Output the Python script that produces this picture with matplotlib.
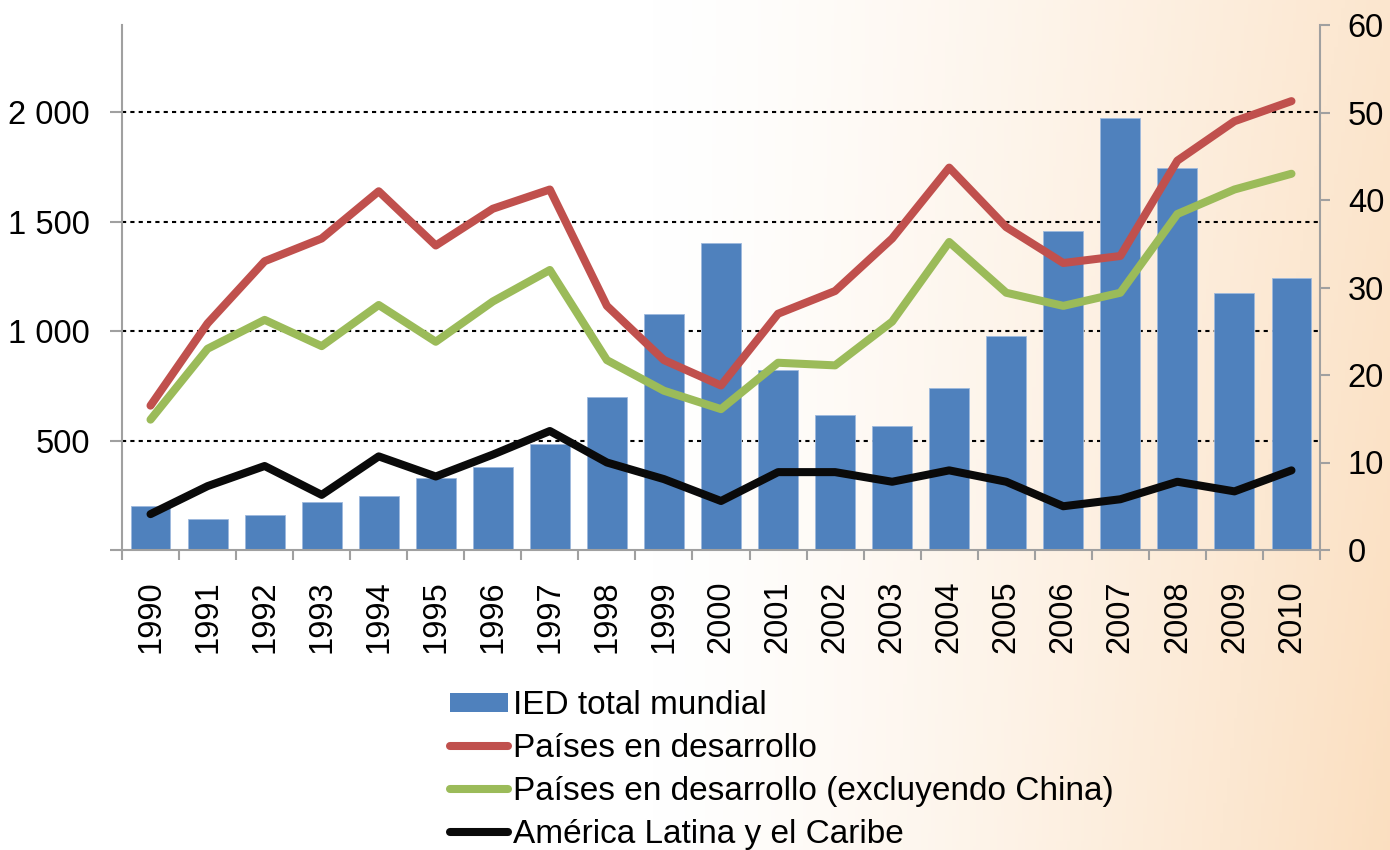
import numpy as np
import matplotlib
matplotlib.use("Agg")
import matplotlib.pyplot as plt
from matplotlib.lines import Line2D
from matplotlib.patches import Patch

plt.rcParams["font.family"] = ["Liberation Sans", "DejaVu Sans"]

years = [str(y) for y in range(1990, 2011)]
ied_mundial = [200, 142, 160, 220, 247, 330, 380, 485, 700, 1080, 1405,
               824, 618, 568, 741, 979, 1460, 1973, 1748, 1176, 1245]
paises_desarrollo = [16.5, 25.9, 33.0, 35.6, 41.0, 34.8, 39.0, 41.2, 27.9, 21.7, 18.8,
                     27.0, 29.6, 35.6, 43.7, 36.9, 32.8, 33.6, 44.5, 49.0, 51.3]
paises_sin_china = [14.9, 23.0, 26.3, 23.3, 28.0, 23.8, 28.4, 32.0, 21.7, 18.2, 16.1,
                    21.4, 21.1, 26.1, 35.2, 29.4, 27.9, 29.4, 38.4, 41.2, 43.0]
america_latina = [4.1, 7.3, 9.6, 6.3, 10.7, 8.4, 10.9, 13.6, 10.0, 8.1, 5.6,
                  8.9, 8.9, 7.8, 9.1, 7.8, 5.0, 5.8, 7.8, 6.7, 9.1]

left_ticks = [0, 500, 1000, 1500, 2000]
left_labels = ["", "500", "1 000", "1 500", "2 000"]
right_ticks = [0, 10, 20, 30, 40, 50, 60]

labels = ["IED total mundial", "Países en desarrollo",
          "Países en desarrollo (excluyendo China)", "América Latina y el Caribe"]
c_bar, c_red, c_green, c_black = "#4F81BD", "#C0504D", "#9BBB59", "#0A0A0A"
gray = "#A0A0A0"

fig = plt.figure(figsize=(13.9, 8.5), dpi=100)

# background: white on the left, fading into peach on the right
bg = fig.add_axes([0, 0, 1, 1], zorder=-10)
xx = np.linspace(0, 1, 400)
yy = np.linspace(0, 1, 200)
X, Y = np.meshgrid(xx, yy)
t = np.clip((X - 0.47) / 0.53, 0, 1) ** 1.3
t = t * (0.85 + 0.25 * Y)
white = np.array([1.0, 1.0, 1.0])
peach = np.array([0.985, 0.885, 0.775])
img = white[None, None, :] * (1 - t[..., None]) + peach[None, None, :] * t[..., None]
bg.imshow(np.clip(img, 0, 1), aspect="auto", extent=[0, 1, 0, 1], origin="upper")
bg.axis("off")

ax = fig.add_axes([122 / 1390, 1 - 550 / 850, (1320 - 122) / 1390, (550 - 25) / 850])
ax.patch.set_alpha(0)
x = np.arange(len(years))

for v in [500, 1000, 1500, 2000]:
    ax.axhline(v, color="black", lw=1.5, ls=(0, (2.0, 2.0)), zorder=1)
ax.bar(x, ied_mundial, width=0.70, color=c_bar, edgecolor="#9DB9DD", linewidth=0.6, zorder=2)

fs = 23.5
ax.set_xlim(-0.5, len(years) - 0.5)
ax.set_ylim(0, 2400)
ax.set_yticks(left_ticks)
ax.set_yticklabels(left_labels)
ax.set_xticks(x)
ax.set_xticklabels(years, rotation=90, va="top", ha="center")
ax.set_xticks(np.arange(-0.5, len(years)), minor=True)
ax.tick_params(axis="x", which="major", length=0, pad=22, labelsize=fs)
ax.tick_params(axis="x", which="minor", length=7, width=1.5, color=gray, direction="out")
ax.tick_params(axis="y", length=9, width=1.5, color=gray, pad=14, labelsize=fs)
for s in ["top", "right"]:
    ax.spines[s].set_visible(False)
for s in ["left", "bottom"]:
    ax.spines[s].set_color(gray)
    ax.spines[s].set_linewidth(1.5)

ax2 = ax.twinx()
ax2.set_ylim(0, 60)
ax2.set_yticks(right_ticks)
ax2.tick_params(axis="y", length=7, width=1.5, color=gray, pad=13, labelsize=fs)
for s in ["top", "left", "bottom"]:
    ax2.spines[s].set_visible(False)
ax2.spines["right"].set_color(gray)
ax2.spines["right"].set_linewidth(1.5)

lw = 5.8
ax2.plot(x, paises_desarrollo, color=c_red, lw=lw, solid_capstyle="round", zorder=3)
ax2.plot(x, paises_sin_china, color=c_green, lw=lw, solid_capstyle="round", zorder=3)
ax2.plot(x, america_latina, color=c_black, lw=lw, solid_capstyle="round", zorder=3)

handles = [Patch(facecolor=c_bar, edgecolor="none"),
           Line2D([], [], color=c_red, lw=lw, solid_capstyle="round"),
           Line2D([], [], color=c_green, lw=lw, solid_capstyle="round"),
           Line2D([], [], color=c_black, lw=lw, solid_capstyle="round")]
fig.legend(handles, labels, loc="upper left", bbox_to_anchor=(450 / 1390, 1 - 690 / 850),
           frameon=False, fontsize=24, borderpad=0, borderaxespad=0,
           handlelength=1.75, handleheight=0.5, handletextpad=0.15, labelspacing=0.36)

fig.savefig("out.png", dpi=100)
